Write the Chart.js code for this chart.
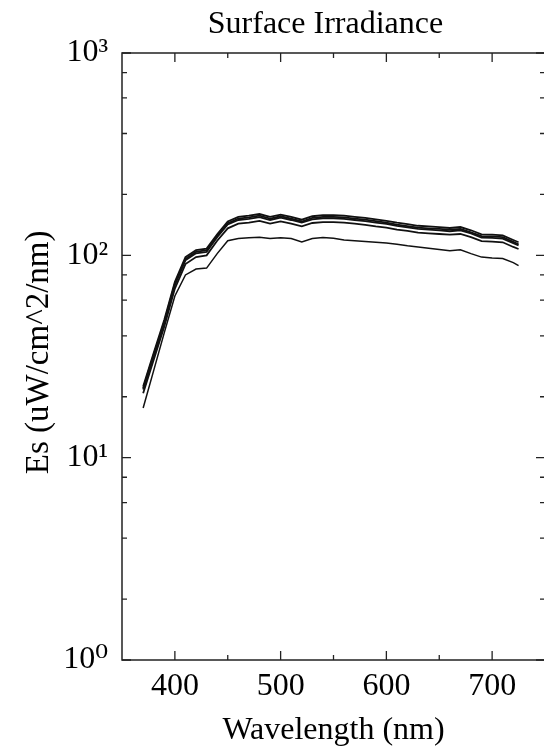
<!DOCTYPE html>
<html>
<head>
<meta charset="utf-8">
<script src="https://cdn.jsdelivr.net/npm/chart.js@4.4.1/dist/chart.umd.min.js"></script>
<style>
  html, body { margin: 0; padding: 0; overflow: hidden; background: #fff; }
</style>
</head>
<body>
<canvas id="es_chart" width="560" height="753"></canvas>
<script>
//  Données
var wavelengths = [370, 380, 390, 400, 410, 420, 430, 440, 450,
  460, 470, 480, 490, 500, 510, 520, 530, 540, 550,
  560, 570, 580, 590, 600, 610, 620, 630, 640, 650,
  660, 670, 680, 690, 700, 710, 720, 725];

var es_1 = [22.5, 33, 48, 74, 98, 106, 108, 127, 147,
  155, 157, 160, 155, 159, 155, 150, 156, 158, 158,
  157, 155, 153, 150.5, 148, 145, 142.5, 140, 139, 138,
  136.5, 138, 133, 127, 126.5, 125.5, 119, 116];
var es_2 = [22.0, 32.3, 47, 72.5, 96, 104, 106, 125, 144,
  152, 154, 157, 152, 156, 152, 147, 153, 155, 155,
  154, 152, 150, 147.5, 145, 142, 139.5, 137, 136, 135,
  134, 135, 130, 124.5, 124, 123, 116.5, 113.5];
var es_3 = [21.7, 31.8, 46.3, 71.4, 94.5, 102.3, 104, 123, 142,
  149.5, 151.5, 154.5, 149.5, 153.5, 149.5, 145, 150.5, 152.5, 152.5,
  151.5, 149.5, 147.5, 145, 143, 140, 137.5, 135, 134, 133,
  131.5, 133, 128.5, 122.5, 122, 121, 115, 112];
var es_4 = [20.8, 30.5, 44.5, 68.5, 90.5, 98, 100, 118, 136,
  143.5, 145, 148, 143.5, 147, 143.5, 139, 144.5, 146, 146,
  145, 143.5, 141.5, 139, 137, 134, 132, 129.5, 128.5, 127.5,
  126.5, 127.5, 123, 117.5, 117, 116, 110, 107.5];
var es_5 = [17.6, 27, 41.5, 63, 80, 85.5, 86.5, 102, 118,
  121, 122, 123, 121, 122, 121, 116.5, 121, 122.5, 121.5,
  119, 118, 117, 116, 115, 113.5, 111.5, 110, 108.5, 107,
  105.5, 106.5, 102, 98, 97, 96.5, 92, 89];

var x_major = [400, 500, 600, 700];
var x_minor = [450, 550, 650];
var y_decades = [1, 10, 100, 1000];
var y_labels = ["10\u2070", "10\u00b9", "10\u00b2", "10\u00b3"];
var y_minor_mult = [2, 4, 6, 8];

var serif = "'Liberation Serif', 'DejaVu Serif', serif";

function toPoints(values) {
  return wavelengths.map(function (w, i) { return { x: w, y: values[i] }; });
}

//  Cadre et graduations vers l'intérieur
var framePlugin = {
  id: "frame",
  afterDraw: function (chart) {
    var ctx = chart.ctx;
    var a = chart.chartArea;
    var xs = chart.scales.x, ys = chart.scales.y;
    ctx.save();
    ctx.strokeStyle = "#222";
    ctx.lineWidth = 1.5;
    ctx.strokeRect(a.left, a.top, a.right - a.left, a.bottom - a.top);
    ctx.lineWidth = 1.3;
    ctx.beginPath();
    function xtick(v, len) {
      var px = xs.getPixelForValue(v);
      ctx.moveTo(px, a.bottom); ctx.lineTo(px, a.bottom - len);
      ctx.moveTo(px, a.top); ctx.lineTo(px, a.top + len);
    }
    function ytick(v, len) {
      var py = ys.getPixelForValue(v);
      ctx.moveTo(a.left, py); ctx.lineTo(a.left + len, py);
      ctx.moveTo(a.right, py); ctx.lineTo(a.right - len, py);
    }
    x_major.forEach(function (v) { xtick(v, 9); });
    x_minor.forEach(function (v) { xtick(v, 5); });
    y_decades.forEach(function (d, i) {
      ytick(d, 9);
      if (i < y_decades.length - 1) {
        y_minor_mult.forEach(function (m) { ytick(d * m, 5); });
      }
    });
    ctx.stroke();
    ctx.restore();
  }
};

var es_ctx = document.getElementById("es_chart");
var es_chart = new Chart(es_ctx, {
  type: "line",
  data: {
    datasets: [es_5, es_4, es_3, es_2, es_1].map(function (vals, i) {
      return {
        data: toPoints(vals),
        borderColor: "#111",
        borderWidth: i === 0 ? 1.5 : 1.8,
        pointRadius: 0,
        tension: 0,
        fill: false
      };
    })
  },
  options: {
    responsive: false,
    animation: false,
    layout: { padding: { left: 0, right: 15, top: 0, bottom: 0 } },
    plugins: {
      legend: { display: false },
      tooltip: { enabled: false },
      title: {
        display: true,
        text: "Surface Irradiance  ",
        fullSize: false,
        color: "#000",
        font: { family: serif, size: 32, weight: "normal", lineHeight: 1.2 },
        padding: { top: 5, bottom: 9.6 }
      }
    },
    scales: {
      x: {
        type: "linear",
        min: 350,
        max: 750,
        grid: { display: false, drawTicks: false },
        border: { display: false },
        afterBuildTicks: function (scale) {
          scale.ticks = x_major.map(function (v) { return { value: v }; });
        },
        afterFit: function (scale) { scale.height = 93; },
        ticks: {
          color: "#000",
          padding: 7,
          maxRotation: 0,
          font: { family: serif, size: 32 },
          callback: function (v) { return String(v); }
        },
        title: {
          display: true,
          text: "Wavelength (nm)",
          color: "#000",
          font: { family: serif, size: 32, lineHeight: 1.2 },
          padding: { top: 0, bottom: 3 }
        }
      },
      y: {
        type: "logarithmic",
        min: 1,
        max: 1000,
        grid: { display: false, drawTicks: false },
        border: { display: false },
        afterBuildTicks: function (scale) {
          scale.ticks = y_decades.map(function (v) { return { value: v }; });
        },
        afterFit: function (scale) { scale.width = 122; },
        ticks: {
          color: "#000",
          padding: 14,
          font: { family: serif, size: 32 },
          callback: function (v, i) { return y_labels[i]; }
        },
        title: {
          display: true,
          text: " Es (uW/cm^2/nm)",
          color: "#000",
          font: { family: serif, size: 33, lineHeight: 1.2 },
          padding: { top: 20, bottom: 0 }
        }
      }
    }
  },
  plugins: [framePlugin]
});
</script>
</body>
</html>
